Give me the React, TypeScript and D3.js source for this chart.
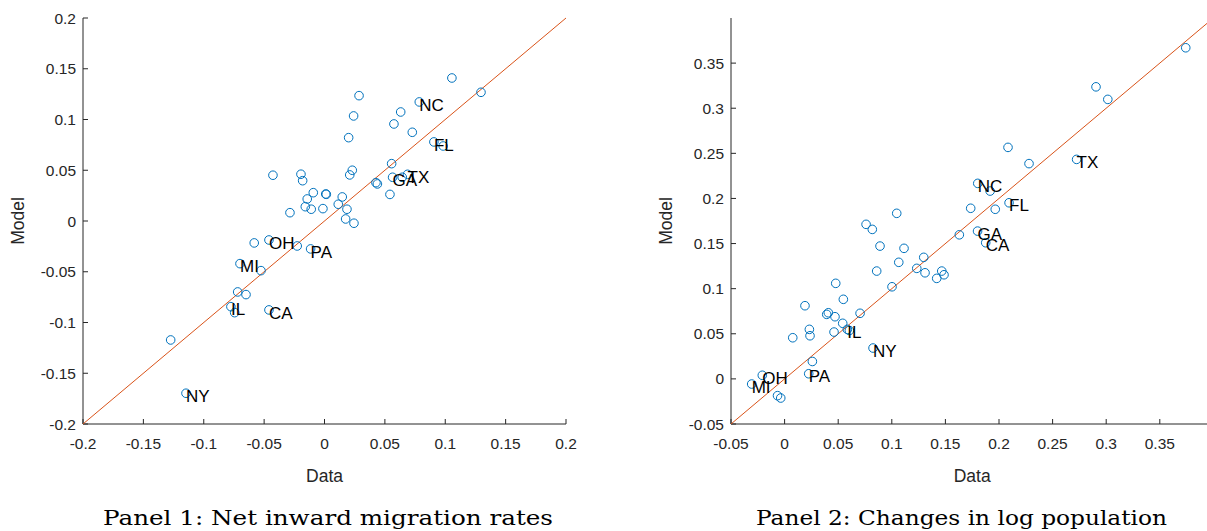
import React from "react";
import * as d3 from "d3";

// Panel 1: Net inward migration rates
const p1Data = [0.0286,0.0241,0.0200,0.0785,0.0631,0.0575,0.0727,0.0906,0.0983,0.1296,0.1055,0.0556,0.0688,0.0644,0.0564,0.0426,0.0438,0.0542,0.0230,0.0209,-0.0427,-0.0195,-0.0181,-0.0093,0.0010,0.0015,-0.0143,0.0147,0.0114,-0.0159,-0.0110,-0.0013,0.0186,-0.0286,0.0175,0.0244,-0.0582,-0.0460,-0.0226,-0.0115,-0.0700,-0.0526,-0.0719,-0.0650,-0.0775,-0.0744,-0.0460,-0.1274,-0.1147];
const p1Model = [0.1235,0.1035,0.0821,0.1173,0.1074,0.0956,0.0874,0.0779,0.0739,0.1268,0.1409,0.0565,0.0460,0.0431,0.0431,0.0378,0.0365,0.0262,0.0500,0.0454,0.0451,0.0461,0.0397,0.0279,0.0266,0.0263,0.0217,0.0237,0.0165,0.0141,0.0116,0.0122,0.0116,0.0082,0.0020,-0.0022,-0.0216,-0.0187,-0.0246,-0.0275,-0.0420,-0.0489,-0.0699,-0.0725,-0.0844,-0.0903,-0.0876,-0.1172,-0.1697];
const p1States = ["","","","NC","","","","FL","","","","","TX","","GA","","","","","","","","","","","","","","","","","","","","","","","OH","","PA","MI","","","","IL","","CA","","NY"];

// Panel 2: Changes in log population
const p2Data = [0.0859,0.0477,0.1002,0.0548,0.0190,0.0408,0.0393,0.0470,0.0704,0.0542,0.0585,0.0604,0.0231,0.0237,0.0076,0.0461,0.0825,0.0259,0.0225,-0.0208,-0.0307,-0.0066,-0.0036,0.1046,0.0760,0.0818,0.1736,0.0890,0.1114,0.1630,0.1800,0.1298,0.1065,0.1233,0.1310,0.1466,0.1487,0.1419,0.2084,0.2280,0.2724,0.1802,0.1917,0.1965,0.2094,0.1876,0.3742,0.2905,0.3015];
const p2Model = [0.1195,0.1059,0.1021,0.0882,0.0811,0.0733,0.0715,0.0689,0.0727,0.0616,0.0549,0.0536,0.0549,0.0478,0.0456,0.0519,0.0342,0.0193,0.0057,0.0040,-0.0057,-0.0186,-0.0212,0.1835,0.1713,0.1657,0.1891,0.1472,0.1447,0.1597,0.1638,0.1347,0.1292,0.1225,0.1176,0.1195,0.1154,0.1114,0.2566,0.2386,0.2433,0.2167,0.2082,0.1880,0.1952,0.1509,0.3670,0.3237,0.3098];
const p2States = ["","","","","","","","","","","IL","","","","","","NY","","PA","OH","MI","","","","","","","","","","GA","","","","","","","","","","TX","NC","","","FL","CA","","",""];

const p1Ticks = [-0.2,-0.15,-0.1,-0.05,0,0.05,0.1,0.15,0.2];
const p2Ticks = [-0.05,0,0.05,0.1,0.15,0.2,0.25,0.3,0.35];
const p1Domain = [-0.2, 0.2];
const p2Domain = [-0.05, 0.4];
const titles = ["Panel 1: Net inward migration rates", "Panel 2: Changes in log population"];

const AX = "#262626";
const SANS = "Liberation Sans";

function fmt(v: number) {
  return String(+v.toFixed(4));
}

function Panel(props: any) {
  const { xs, ys, states, ticks, domain, left, right, title, titleWidth, titleX } = props;
  const top = 18, bottom = 424;
  const x = d3.scaleLinear().domain(domain).range([left, right]);
  const y = d3.scaleLinear().domain(domain).range([bottom, top]);
  const line = d3.line<number>().x((d) => x(d)).y((d) => y(d));
  const tl = 5;
  const cx = (left + right) / 2;
  return (
    <g>
      <line x1={left} y1={top} x2={left} y2={bottom} stroke={AX} strokeWidth={1} />
      <line x1={left} y1={bottom} x2={right} y2={bottom} stroke={AX} strokeWidth={1} />
      {ticks.map((t: number) => (
        <g key={"yt" + t}>
          <line x1={left} x2={left + tl} y1={y(t)} y2={y(t)} stroke={AX} strokeWidth={1} />
          <text x={left - 7} y={y(t) + 5.5} textAnchor="end" fontFamily={SANS} fontSize={15.5} fill={AX}>{fmt(t)}</text>
        </g>
      ))}
      {ticks.map((t: number) => (
        <g key={"xt" + t}>
          <line x1={x(t)} x2={x(t)} y1={bottom} y2={bottom - tl} stroke={AX} strokeWidth={1} />
          <text x={x(t)} y={449} textAnchor="middle" fontFamily={SANS} fontSize={15.5} fill={AX}>{fmt(t)}</text>
        </g>
      ))}
      <text x={cx} y={482} textAnchor="middle" fontFamily={SANS} fontSize={17.5} fill={AX}>Data</text>
      <text transform={`translate(${left - 59},${(top + bottom) / 2}) rotate(-90)`} textAnchor="middle" fontFamily={SANS} fontSize={17.5} fill={AX}>Model</text>
      <path d={line(domain) || ""} stroke="#D95319" strokeWidth={1} fill="none" />
      {xs.map((v: number, i: number) => (
        <circle key={"c" + i} cx={x(v)} cy={y(ys[i])} r={4.3} fill="none" stroke="#0072BD" strokeWidth={1} />
      ))}
      {states.map((s: string, i: number) =>
        s ? (
          <text key={"s" + i} x={x(xs[i])} y={y(ys[i]) + 8.7} fontFamily={SANS} fontSize={17} fill="#000">{s}</text>
        ) : null
      )}
      <text x={titleX} y={525} textAnchor="middle" fontFamily="DejaVu Serif" fontSize={20.5} fill="#000" textLength={titleWidth} lengthAdjust="spacingAndGlyphs">{title}</text>
    </g>
  );
}

export default function App() {
  return (
    <div style={{ position: "absolute", left: 0, top: 0 }}>
      <svg width={1207} height={531} style={{ display: "block", background: "#fff" }}>
        <rect width={1207} height={531} fill="#fff" />
        <Panel xs={p1Data} ys={p1Model} states={p1States} ticks={p1Ticks} domain={p1Domain} left={83} right={566} title={titles[0]} titleWidth={450} titleX={328} />
        <Panel xs={p2Data} ys={p2Model} states={p2States} ticks={p2Ticks} domain={p2Domain} left={731} right={1213.4} title={titles[1]} titleWidth={411} titleX={961.5} />
      </svg>
    </div>
  );
}
